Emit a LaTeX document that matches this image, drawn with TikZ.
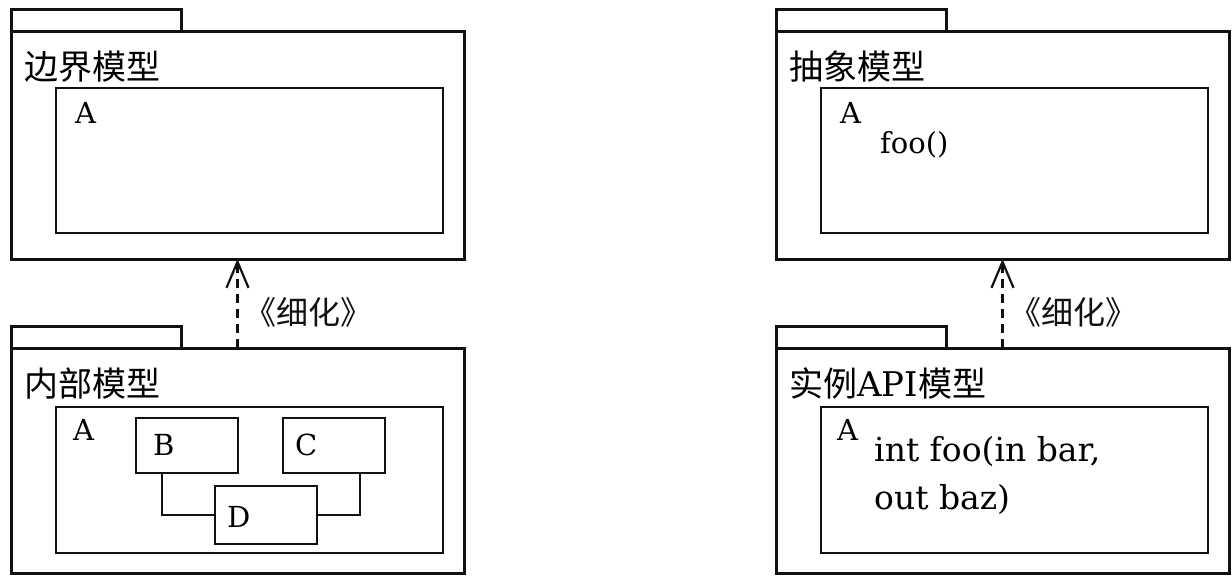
\documentclass[tikz,border=0pt]{standalone}
\usepackage{fontspec}
\setmainfont{DejaVu Serif}
\newfontfamily\cjk{Noto Sans CJK SC}
\usetikzlibrary{arrows.meta,positioning,calc}
\definecolor{ink}{HTML}{111111}

\begin{document}
\begin{tikzpicture}[x=1pt,y=-1pt,
 box/.style={draw=ink,inner sep=0pt,outer sep=0pt,anchor=north west},
 pkg/.style={box,line width=3pt,minimum width=453pt,minimum height=228pt},
 tab/.style={box,line width=3pt,minimum width=170pt,minimum height=22pt},
 cls/.style={box,line width=2.8pt,minimum width=387pt,minimum height=145pt},
 part/.style={box,line width=2.6pt,minimum width=102pt,minimum height=55pt},
 title/.style={anchor=base west,inner sep=0pt,font=\cjk\fontsize{34}{38}\selectfont},
 txt/.style={anchor=base west,inner sep=0pt,font=\fontsize{29}{34}\selectfont},
 sig/.style={anchor=base west,inner sep=0pt,font=\fontsize{33}{38}\selectfont},
 refine/.style={line width=2.2pt,color=ink,dash pattern=on 9pt off 6pt,
  -{Straight Barb[length=26pt,width=22pt,line width=2.2pt]}},
 stereo/.style={anchor=west,inner sep=0pt,font=\cjk\fontsize{32}{36}\selectfont}]
 \useasboundingbox (0,0) rectangle (1232,576);
 % left: boundary model
 \node[tab] (lttab) at (11,9) {};
 \node[pkg] (lt) at (11,31) {};
 \node[title] (lttitle) at (24,79) {边界模型};
 \node[cls] (lta) at (56,88) {};
 \node[txt] (ltaname) at (75,123) {A};
 % left: internal model
 \node[tab] (lbtab) at (11,326) {};
 \node[pkg,minimum height=225pt] (lb) at (11,348) {};
 \node[title] (lbtitle) at (24,396) {内部模型};
 \node[cls,minimum height=146pt] (lba) at (56,407) {};
 \node[txt] (lbaname) at (73,440) {A};
 \node[part] (b) at (136,418) {};
 \node[part] (c) at (283,418) {};
 \node[part,minimum height=58pt] (d) at (215,486) {};
 \node[txt] (bname) at (153,455) {B};
 \node[txt] (cname) at (295,455) {C};
 \node[txt] (dname) at (227,527) {D};
 \draw[line width=2.6pt,ink] ([xshift=26pt]b.south west) |- (d.west);
 \draw[line width=2.6pt,ink] ([xshift=-25pt]c.south east) |- (d.east);
 \draw[refine] (lb.north) -- (lt.south) node[stereo,pos=0.4,xshift=6pt] {《细化》};
 % right: abstract model
 \node[tab] (rttab) at (776,9) {};
 \node[pkg] (rt) at (776,31) {};
 \node[title] (rttitle) at (789,79) {抽象模型};
 \node[cls] (rta) at (821,88) {};
 \node[txt] (rtaname) at (840,123) {A};
 \node[txt] (rtop) at (880,153) {foo()};
 % right: instance API model
 \node[tab] (rbtab) at (776,326) {};
 \node[pkg,minimum height=225pt] (rb) at (776,348) {};
 \node[title] (rbtitle) at (789,396) {实例\textrm{API}模型};
 \node[cls,minimum height=146pt] (rba) at (821,407) {};
 \node[txt] (rbaname) at (837,440) {A};
 \node[sig] (rbsig) at (874,461) {int foo(in bar,};
 \node[sig] (rbsigb) at (874,509) {out baz)};
 \draw[refine] (rb.north) -- (rt.south) node[stereo,pos=0.4,xshift=6pt] {《细化》};
\end{tikzpicture}
\end{document}
